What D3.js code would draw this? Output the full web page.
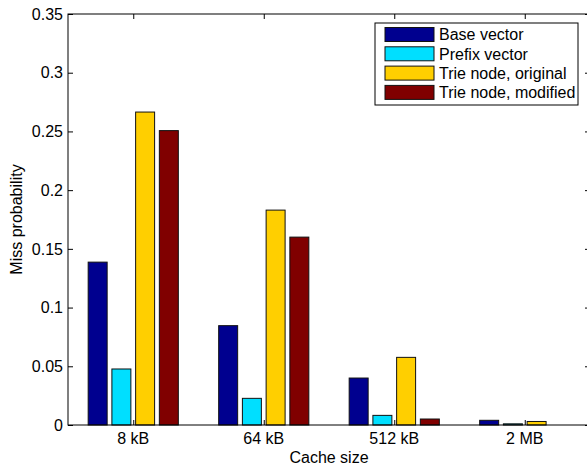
<!DOCTYPE html>
<html>
<head>
<meta charset="utf-8">
<script src="https://cdn.jsdelivr.net/npm/d3@7"></script>
<style>
  body { margin: 0; background: #fff; }
  text { font-family: "Liberation Sans", Arial, sans-serif; }
</style>
</head>
<body>
<script>
// data
var categories = ["8 kB", "64 kB", "512 kB", "2 MB"];
var seriesNames = ["Base vector", "Prefix vector", "Trie node, original", "Trie node, modified"];
var baseVector = [0.1387, 0.0846, 0.0400, 0.0040];
var prefixVector = [0.0477, 0.0227, 0.0082, 0.0010];
var trieOriginal = [0.2665, 0.1830, 0.0576, 0.0030];
var trieModified = [0.2507, 0.1600, 0.0051, 0.0000];
var yTicks = [0, 0.05, 0.1, 0.15, 0.2, 0.25, 0.3, 0.35];

var series = [baseVector, prefixVector, trieOriginal, trieModified];
var colors = ["#00008f", "#00dfff", "#ffcf00", "#800000"];

var w = 587, h = 468;
var mLeft = 68, mRight = 590, mTop = 14, mBottom = 425;
var fs = "16px";

var svg = d3.select("body").append("svg")
    .attr("width", w)
    .attr("height", h);

// x: group positions 1..4, limits 0.5..4.5 like matlab bar
var x = d3.scaleLinear().domain([0.5, 4.5]).range([mLeft, mRight]);
var y = d3.scaleLinear().domain([0, 0.35]).range([mBottom, mTop]);

var groupW = Math.min(0.8, 4 / (4 + 1.5));
var step = groupW / 4;
var barW = step * 0.8;

// bars
series.forEach(function(vals, s) {
  svg.append("g").selectAll("rect")
    .data(vals)
    .enter().append("rect")
      .attr("x", function(d, i) { return x(i + 1 + (s - 1.5) * step - barW / 2); })
      .attr("width", x(barW) - x(0))
      .attr("y", function(d) { return y(d); })
      .attr("height", function(d) { return y(0) - y(d); })
      .attr("fill", colors[s])
      .attr("stroke", "#111")
      .attr("stroke-width", 1);
});

// axis box
svg.append("rect")
    .attr("x", mLeft).attr("y", mTop)
    .attr("width", mRight - mLeft).attr("height", mBottom - mTop)
    .attr("fill", "none").attr("stroke", "#000").attr("stroke-width", 1);

var tickLen = 5;

// y axis left, ticks pointing inward
var yAxis = svg.append("g").attr("transform", "translate(" + mLeft + ",0)")
    .call(d3.axisRight(y).tickValues(yTicks).tickSize(tickLen).tickFormat(""));
yAxis.select(".domain").remove();

svg.append("g").selectAll("text")
    .data(yTicks)
    .enter().append("text")
      .attr("x", mLeft - 5)
      .attr("y", function(d) { return y(d); })
      .attr("dy", "0.36em")
      .attr("text-anchor", "end")
      .attr("font-size", fs)
      .text(function(d) { return d3.format("~g")(d); });

// y axis right ticks
var yAxisR = svg.append("g").attr("transform", "translate(" + mRight + ",0)")
    .call(d3.axisLeft(y).tickValues(yTicks).tickSize(tickLen).tickFormat(""));
yAxisR.select(".domain").remove();

// x ticks bottom (inward) and top (inward)
var xTickVals = [1, 2, 3, 4];
var xAxisB = svg.append("g").attr("transform", "translate(0," + mBottom + ")")
    .call(d3.axisTop(x).tickValues(xTickVals).tickSize(tickLen).tickFormat(""));
xAxisB.select(".domain").remove();
var xAxisT = svg.append("g").attr("transform", "translate(0," + mTop + ")")
    .call(d3.axisBottom(x).tickValues(xTickVals).tickSize(tickLen).tickFormat(""));
xAxisT.select(".domain").remove();

svg.selectAll(".tick line").attr("stroke", "#000");

svg.append("g").selectAll("text")
    .data(categories)
    .enter().append("text")
      .attr("x", function(d, i) { return x(i + 1); })
      .attr("y", 444)
      .attr("text-anchor", "middle")
      .attr("font-size", fs)
      .text(function(d) { return d; });

// axis titles
svg.append("text")
    .attr("x", (mLeft + mRight) / 2)
    .attr("y", 463)
    .attr("text-anchor", "middle")
    .attr("font-size", fs)
    .text("Cache size");

svg.append("text")
    .attr("transform", "translate(22," + (mTop + mBottom) / 2 + ") rotate(-90)")
    .attr("text-anchor", "middle")
    .attr("font-size", fs)
    .text("Miss probability");

// legend
var lg = svg.append("g").attr("transform", "translate(375,23)");
lg.append("rect")
    .attr("width", 203).attr("height", 82)
    .attr("fill", "#fff").attr("stroke", "#000").attr("stroke-width", 1);

var rows = lg.selectAll("g.row")
    .data(seriesNames)
    .enter().append("g")
      .attr("class", "row")
      .attr("transform", function(d, i) { return "translate(0," + (4.5 + i * 19.3) + ")"; });
rows.append("rect")
    .attr("x", 10).attr("width", 49).attr("height", 14)
    .attr("fill", function(d, i) { return colors[i]; })
    .attr("stroke", "#111").attr("stroke-width", 1);
rows.append("text")
    .attr("x", 64).attr("y", 7)
    .attr("dy", "0.36em")
    .attr("font-size", fs)
    .text(function(d) { return d; });
</script>
</body>
</html>
